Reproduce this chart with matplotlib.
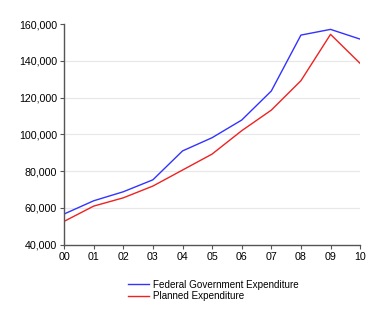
import matplotlib
matplotlib.use("Agg")
import matplotlib.pyplot as plt
from matplotlib.ticker import FuncFormatter

# -------------------------
# DATA
# -------------------------
years = ["00", "01", "02", "03", "04", "05", "06", "07", "08", "09", "10"]
federal = [56700, 63900, 68800, 75300, 91000, 98200, 107800, 123600, 154000, 157100, 151800]
planned = [52700, 61000, 65500, 71900, 80600, 89300, 102000, 113200, 129200, 154400, 138600]
y_ticks = [40000, 60000, 80000, 100000, 120000, 140000, 160000]

# -------------------------
# PLOT
# -------------------------
plt.rcParams["font.family"] = ["Liberation Sans", "DejaVu Sans"]
fig = plt.figure(figsize=(3.86, 3.25), dpi=100)
ax = fig.add_axes([0.166, 0.247, 0.767, 0.679])

x = list(range(len(years)))
ax.plot(x, federal, color="#3333ff", lw=1.0, label="Federal Government Expenditure")
ax.plot(x, planned, color="#ee2222", lw=1.0, label="Planned Expenditure")

ax.set_xlim(0, len(years) - 1)
ax.set_ylim(40000, 160000)
ax.set_xticks(x)
ax.set_xticklabels(years)
ax.set_yticks(y_ticks)
ax.yaxis.set_major_formatter(FuncFormatter(lambda v, p: f"{int(v):,}"))

for v in y_ticks[1:-1]:
    ax.axhline(v, color="#e8e8e8", lw=0.9, zorder=0)

for s in ["top", "right"]:
    ax.spines[s].set_visible(False)
for s in ["left", "bottom"]:
    ax.spines[s].set_color("#555555")
    ax.spines[s].set_linewidth(1.0)
ax.tick_params(axis="both", labelsize=7.7, length=3, width=0.8, color="#555555", pad=2)

fig.legend(loc="upper left", bbox_to_anchor=(0.32, 0.155), frameon=False,
           fontsize=7.1, handlelength=2.1, handletextpad=0.4, labelspacing=0.15,
           borderpad=0)

fig.savefig("out.png", dpi=100)
